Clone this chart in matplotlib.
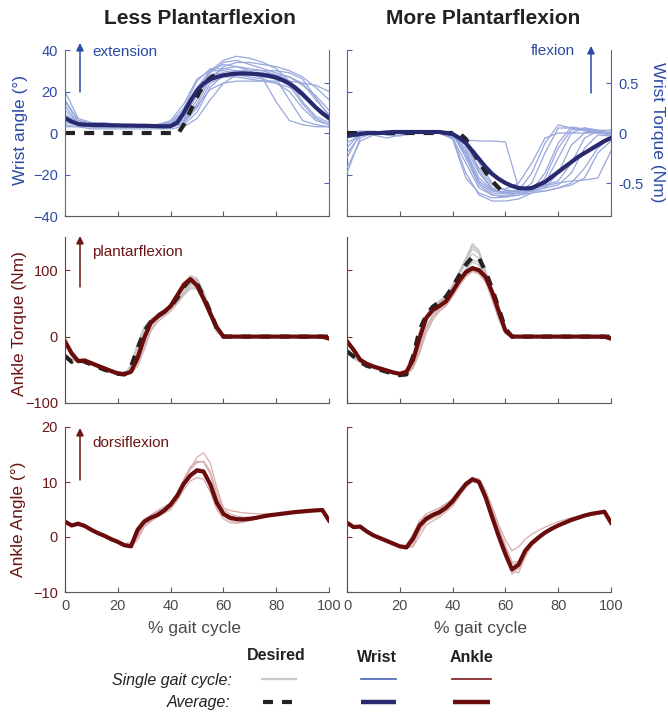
import matplotlib
matplotlib.use("Agg")
import matplotlib.pyplot as plt

plt.rcParams['font.family'] = ['Liberation Sans', 'DejaVu Sans']

# ---------------- data ----------------
X_AVG = [i * 2.5 for i in range(41)]
X_W = list(range(0, 101, 5))
TQ_X = [0, 2.5, 5, 10, 15, 20, 22.5, 25, 27.5, 30, 32.5, 35, 37.5, 40, 42.5, 45,
        47.5, 50, 52.5, 55, 57.5, 60, 62.5, 65, 80, 100]
AN_X = [0, 2.5, 5, 7.5, 10, 15, 20, 22.5, 25, 27.5, 30, 35, 40, 42.5, 45, 47.5,
        50, 52.5, 55, 57.5, 60, 62.5, 65, 67.5, 70, 75, 80, 85, 90, 95, 97.5, 100]

# Wrist angle (Less plantarflexion)
LPF_WRIST_AVG = [7.2, 5.5, 4.3, 4.0, 3.9, 3.8, 3.8, 3.7, 3.7, 3.6, 3.6, 3.5, 3.5, 3.4, 3.3, 3.2,
                 3.3, 5.0, 9.8, 15.5, 20.5, 23.8, 25.8, 27.0, 27.8, 28.3, 28.6, 28.7, 28.6, 28.4,
                 28.0, 27.5, 26.7, 25.5, 23.8, 21.5, 18.6, 15.5, 12.3, 9.5, 7.2]
LPF_WRIST_DES_X = [0, 43, 45, 51, 54.5, 58.5]
LPF_WRIST_DES = [0, 0, 4, 20, 26, 29.5]
LPF_WRIST_SINGLE = [
    [20, 7, 5, 4, 4, 4, 4, 4, 5, 8, 18, 30, 35, 37, 36, 34, 31, 25, 15, 8, 5],
    [16, 6, 4, 4, 4, 4, 3, 3, 3, 5, 14, 26, 32, 34, 34, 33, 32, 30, 27, 22, 16],
    [11, 5, 4, 4, 4, 4, 4, 4, 6, 14, 26, 30, 30, 29, 28, 27, 26, 16, 6, 4, 3],
    [7, 4, 3, 3, 3, 3, 3, 3, 3, 4, 10, 22, 28, 30, 30, 30, 30, 29, 26, 17, 8],
    [5, 4, 3, 3, 3, 3, 3, 3, 3, 5, 12, 24, 27, 27, 26, 25, 24, 22, 18, 12, 6],
    [3, 3, 3, 3, 3, 3, 3, 3, 4, 9, 22, 30, 33, 32, 30, 26, 15, 6, 4, 3, 3],
    [9, 5, 4, 4, 4, 4, 4, 4, 4, 6, 13, 21, 24, 25, 25, 25, 25, 25, 24, 23, 20],
    [4, 3, 2, 2, 2, 2, 2, 2, 2, 3, 7, 16, 24, 28, 29, 29, 28, 27, 24, 16, 9],
    [6, 4, 3, 3, 3, 3, 3, 3, 5, 12, 25, 31, 31, 30, 29, 28, 26, 23, 14, 7, 4],
    [13, 5, 4, 4, 4, 4, 4, 4, 4, 6, 16, 27, 31, 32, 31, 30, 28, 25, 20, 13, 8],
    [8, 5, 4, 4, 4, 3, 3, 3, 4, 7, 19, 28, 29, 28, 27, 26, 24, 20, 12, 6, 4],
    [15, 6, 5, 5, 4, 4, 4, 4, 5, 10, 21, 29, 34, 35, 33, 31, 29, 27, 23, 18, 11],
]

# Wrist torque (More plantarflexion)
MPF_WRIST_AVG = [-0.03, -0.02, -0.01, 0.0, 0.0, 0.0, 0.005, 0.01, 0.01, 0.01, 0.01, 0.01, 0.01,
                 0.01, 0.01, 0.0, -0.01, -0.05, -0.10, -0.18, -0.26, -0.34, -0.41, -0.46, -0.50,
                 -0.53, -0.55, -0.555, -0.55, -0.52, -0.49, -0.44, -0.39, -0.34, -0.29, -0.24,
                 -0.20, -0.16, -0.12, -0.08, -0.05]
MPF_WRIST_DES_X = [0, 42.5, 45, 47.5, 50, 52.5, 55, 57.5, 60.5]
MPF_WRIST_DES = [0, 0, -0.06, -0.18, -0.29, -0.39, -0.48, -0.55, -0.63]
MPF_WRIST_SINGLE = [
    [-0.40, -0.05, 0, 0, 0, 0, 0, 0, -0.05, -0.30, -0.55, -0.62, -0.63, -0.60, -0.50, -0.20, 0.05, 0.05, 0.02, 0.0, 0.0],
    [-0.25, 0, 0.01, 0.01, 0, 0, 0.01, 0, -0.02, -0.15, -0.40, -0.56, -0.60, -0.60, -0.58, -0.50, -0.25, 0.0, 0.05, 0.02, 0.0],
    [0, 0.01, 0, -0.02, -0.03, 0, 0.01, 0, 0, -0.08, -0.30, -0.50, -0.58, -0.58, -0.55, -0.52, -0.48, -0.30, -0.05, 0.02, 0.0],
    [-0.05, 0, 0.01, 0, 0, 0.01, 0, 0.01, -0.04, -0.40, -0.62, -0.68, -0.68, -0.66, -0.60, -0.45, -0.15, 0.03, 0.05, 0.03, 0.02],
    [0, 0, 0, 0, 0, 0.01, 0.01, 0, -0.03, -0.07, -0.08, -0.08, -0.09, -0.55, -0.58, -0.58, -0.55, -0.50, -0.35, -0.15, -0.05],
    [-0.10, -0.02, 0, 0, 0, 0, 0, 0, -0.01, -0.20, -0.48, -0.58, -0.60, -0.58, -0.55, -0.53, -0.50, -0.48, -0.47, -0.45, -0.18],
    [0.01, 0.01, 0, 0, 0.01, 0, 0, 0, 0, -0.12, -0.35, -0.52, -0.57, -0.58, -0.40, -0.10, 0.08, 0.05, 0.03, 0.01, 0.0],
    [-0.35, -0.08, -0.02, -0.05, -0.02, 0, 0.01, 0.01, 0, -0.25, -0.52, -0.62, -0.64, -0.62, -0.58, -0.55, -0.40, -0.12, 0.0, 0.02, 0.03],
    [-0.15, 0, 0, 0, 0, 0, 0.01, 0, -0.06, -0.45, -0.60, -0.65, -0.64, -0.62, -0.60, -0.58, -0.55, -0.52, -0.45, -0.20, -0.08],
    [0, 0.02, 0.01, 0, 0, 0, 0, 0.01, 0, -0.10, -0.38, -0.55, -0.56, -0.50, -0.30, -0.05, 0.0, 0.0, 0.0, 0.0, -0.02],
    [-0.20, -0.03, 0, 0.01, 0, 0, 0, 0, -0.02, -0.22, -0.50, -0.60, -0.61, -0.60, -0.57, -0.40, -0.10, 0.06, 0.04, 0.01, 0.0],
    [0, 0, -0.01, 0, 0, 0, 0.01, 0, -0.01, -0.18, -0.45, -0.57, -0.59, -0.57, -0.55, -0.55, -0.52, -0.40, -0.15, -0.02, -0.03],
]

# Ankle torque
Z15 = [0] * 15
Z14 = [0] * 14
LPF_TQ_AVG = [-7, -25, -37, -36, -40, -44, -48, -52, -55.5, -56.5, -53, -32, -2, 21, 30, 37, 46,
              62, 78, 86.5, 77, 57, 35, 14, 0] + Z15 + [-3]
LPF_TQ_DES = [-29, -38, -34, -38, -42, -46, -50, -53, -56, -57, -45, -18, 8, 22, 31, 37, 45, 58,
              75, 86, 80, 60, 38, 12, 0] + Z15 + [0]
LPF_TQ_DES_SINGLE = [
    [-25, -40, -33, -40, -49, -55, -57, -50, -25, 0, 18, 28, 35, 43, 55, 72, 85, 85, 65, 40, 14, 0, 0, 0, 0, 0],
    [-30, -36, -35, -42, -50, -56, -58, -42, -10, 15, 26, 33, 39, 48, 62, 80, 92, 88, 68, 42, 15, 0, 0, 0, 0, 0],
    [-28, -38, -36, -43, -51, -57, -58, -53, -35, -8, 15, 27, 34, 42, 52, 66, 78, 80, 62, 36, 10, 0, 0, 0, 0, 0],
    [-32, -34, -34, -41, -49, -55, -56, -48, -20, 8, 25, 34, 40, 46, 57, 70, 80, 75, 55, 30, 8, 0, 0, 0, 0, 0],
    [-27, -39, -35, -41, -50, -56, -57, -45, -15, 12, 24, 31, 37, 45, 60, 76, 88, 86, 66, 40, 12, 0, 0, 0, 0, 0],
    [-31, -35, -36, -42, -50, -56, -57, -55, -40, -15, 10, 25, 33, 40, 50, 62, 72, 72, 55, 30, 6, 0, 0, 0, 0, 0],
]
LPF_TQ_SINGLE = [
    [-5, -25, -36, -41, -48, -55, -56, -54, -38, -8, 17, 28, 35, 44, 58, 75, 84, 80, 60, 36, 14, 1, 0, 0, 0, -2],
    [-8, -30, -38, -40, -47, -54, -56, -50, -28, 2, 22, 31, 38, 47, 62, 80, 88, 80, 58, 34, 12, 0, 0, 0, 0, -3],
    [-6, -27, -35, -39, -46, -53, -55, -55, -45, -20, 8, 22, 30, 38, 50, 65, 75, 74, 56, 32, 12, 1, 0, 0, 0, -2],
    [-9, -28, -37, -42, -49, -56, -57, -52, -30, 0, 20, 30, 38, 48, 64, 82, 90, 84, 60, 34, 12, 0, 0, 0, 0, -3],
]
MPF_TQ_AVG = [-7, -20, -35, -41, -45, -48, -51, -54, -56, -53, -35, -2, 28, 40, 46, 53, 68, 84,
              97, 103, 100, 90, 67, 38, 9, 0] + Z14 + [-3]
MPF_TQ_DES = [-22, -30, -38, -44, -47, -50, -53, -56, -58, -57, -30, 10, 32, 45, 52, 60, 75, 92,
              108, 120, 118, 98, 72, 42, 12, 0] + Z14 + [0]
MPF_TQ_DES_SINGLE = [
    [-20, -32, -38, -47, -53, -57, -58, -40, -5, 25, 40, 50, 58, 72, 92, 110, 125, 118, 92, 62, 32, 8, 0, 0, 0, 0],
    [-24, -30, -37, -46, -52, -56, -57, -28, 8, 32, 46, 54, 62, 78, 98, 118, 140, 130, 100, 68, 38, 12, 0, 0, 0, 0],
    [-18, -33, -39, -48, -54, -58, -58, -45, -15, 15, 33, 45, 53, 66, 85, 102, 115, 112, 88, 58, 28, 6, 0, 0, 0, 0],
    [-22, -31, -38, -47, -53, -57, -57, -35, 0, 28, 43, 52, 60, 75, 95, 114, 132, 125, 95, 64, 34, 10, 0, 0, 0, 0],
    [-21, -31, -38, -47, -53, -57, -57, -48, -20, 10, 30, 44, 52, 64, 82, 100, 112, 108, 85, 55, 25, 5, 0, 0, 0, 0],
    [-23, -32, -37, -46, -52, -56, -56, -30, 5, 30, 45, 53, 61, 76, 96, 116, 136, 128, 98, 66, 36, 11, 0, 0, 0, 0],
]
MPF_TQ_SINGLE = [
    [-6, -20, -36, -46, -51, -55, -54, -40, -8, 25, 38, 45, 52, 66, 82, 96, 102, 98, 86, 62, 32, 6, 0, 0, 0, -3],
    [-8, -22, -34, -44, -50, -56, -56, -45, -20, 12, 30, 40, 48, 62, 80, 92, 100, 96, 84, 58, 30, 5, 0, 0, 0, -3],
    [-5, -18, -35, -45, -51, -55, -53, -32, 0, 30, 42, 50, 57, 70, 86, 100, 106, 102, 92, 70, 40, 12, 0, 0, 0, -2],
    [-7, -21, -37, -46, -52, -57, -56, -48, -25, 5, 25, 38, 46, 60, 76, 90, 98, 94, 82, 56, 28, 4, 0, 0, 0, -3],
]

# Ankle angle
LPF_AN_AVG = [2.8, 2.1, 2.4, 2.0, 1.3, 0.7, 0.2, -0.4, -0.9, -1.5, -1.7, 1.3, 2.8, 3.5, 4.0, 4.8,
              5.9, 7.5, 9.7, 11.2, 12.1, 11.9, 9.6, 6.2, 4.2, 3.5, 3.25, 3.2, 3.3, 3.5, 3.75, 3.95,
              4.1, 4.25, 4.4, 4.55, 4.65, 4.75, 4.85, 4.9, 3.0]
LPF_AN_SINGLE = [
    [2.8, 2.0, 2.8, 2.1, 1.4, 0.3, -0.8, -1.3, -1.6, 0.2, 2.5, 4.2, 5.8, 7.5, 10.0, 12.5, 14.5, 15.3, 13.5, 9.0, 5.3, 4.8, 4.6, 4.4, 4.3, 4.2, 4.2, 4.4, 4.6, 4.8, 4.9, 3.1],
    [2.6, 2.2, 2.5, 2.0, 1.3, 0.1, -1.0, -1.5, -1.8, -0.5, 1.8, 3.8, 5.4, 7.0, 9.2, 11.0, 12.0, 11.8, 9.5, 6.0, 3.8, 3.0, 2.7, 2.8, 3.0, 3.5, 4.0, 4.3, 4.6, 4.9, 5.0, 3.0],
    [2.9, 2.3, 2.6, 2.1, 1.5, 0.4, -0.6, -1.2, -1.0, 1.5, 3.2, 4.8, 6.2, 8.0, 10.5, 12.8, 13.8, 13.6, 11.5, 7.2, 4.6, 3.8, 3.5, 3.4, 3.5, 3.7, 4.0, 4.3, 4.6, 4.8, 4.9, 3.0],
    [2.7, 2.1, 2.4, 1.9, 1.2, 0.2, -0.9, -1.4, -1.7, 0.0, 2.2, 3.6, 5.0, 6.6, 8.6, 10.2, 10.8, 10.5, 8.2, 5.0, 3.3, 2.6, 2.5, 2.7, 3.0, 3.6, 4.1, 4.4, 4.6, 4.8, 4.8, 2.9],
    [2.8, 2.0, 2.5, 2.0, 1.3, 0.2, -0.9, -1.4, -1.3, 1.0, 2.9, 4.5, 6.0, 7.8, 10.3, 12.3, 13.5, 13.8, 12.0, 8.0, 5.0, 4.2, 3.8, 3.6, 3.6, 3.8, 4.1, 4.4, 4.7, 4.9, 5.0, 3.1],
    [2.7, 2.2, 2.6, 2.1, 1.4, 0.3, -0.7, -1.2, -1.5, 0.5, 2.8, 4.0, 5.5, 7.2, 9.5, 11.5, 12.5, 12.2, 10.0, 6.5, 4.2, 3.5, 3.2, 3.2, 3.3, 3.6, 4.0, 4.3, 4.6, 4.8, 4.9, 3.0],
]
MPF_AN_AVG = [2.6, 1.8, 1.9, 1.0, 0.3, -0.2, -0.7, -1.2, -1.7, -1.9, -0.3, 2.1, 3.3, 4.0, 4.5, 5.3,
              6.5, 8.1, 9.6, 10.5, 10.0, 7.2, 3.6, 0.1, -3.1, -5.9, -5.0, -2.5, -1.1, -0.1, 0.8,
              1.5, 2.1, 2.6, 3.1, 3.5, 3.9, 4.2, 4.4, 4.6, 2.6]
MPF_AN_SINGLE = [
    [2.6, 1.9, 1.9, 1.0, 0.3, -0.7, -1.7, -1.9, -0.8, 2.0, 3.5, 5.0, 7.0, 8.5, 10.0, 10.8, 10.5, 8.0, 4.5, 1.0, -2.5, -6.8, -5.5, -3.0, -1.5, 0.5, 2.0, 3.0, 3.8, 4.4, 4.6, 2.6],
    [2.5, 1.8, 1.8, 0.9, 0.2, -0.8, -1.8, -2.0, -1.5, 1.0, 2.8, 4.0, 6.0, 7.6, 9.2, 10.2, 10.2, 8.0, 4.8, 1.6, -1.5, -4.5, -4.5, -2.4, -0.9, 0.9, 2.2, 3.1, 3.9, 4.4, 4.6, 2.6],
    [2.6, 1.9, 1.9, 1.1, 0.3, -0.7, -1.5, -1.5, 0.5, 3.0, 4.2, 5.3, 6.9, 8.4, 9.8, 10.6, 10.6, 8.5, 5.5, 2.2, -0.5, -2.5, -1.8, -0.4, 0.5, 1.8, 2.8, 3.5, 4.1, 4.5, 4.7, 2.7],
    [2.6, 1.8, 1.9, 1.0, 0.3, -0.7, -1.7, -2.0, -1.0, 1.6, 3.0, 4.3, 6.3, 7.8, 9.4, 10.4, 10.3, 7.6, 4.0, 0.4, -3.2, -6.2, -6.5, -3.6, -1.6, 0.6, 2.0, 3.0, 3.8, 4.3, 4.6, 2.6],
    [2.5, 1.8, 1.8, 0.9, 0.2, -0.8, -1.8, -2.0, -1.8, 0.2, 2.2, 3.6, 5.6, 7.3, 9.0, 10.0, 10.0, 7.5, 4.2, 0.8, -2.8, -5.8, -5.8, -3.3, -1.3, 0.7, 2.1, 3.0, 3.8, 4.4, 4.6, 2.6],
    [2.6, 1.9, 2.0, 1.0, 0.3, -0.7, -1.6, -1.8, 0.0, 2.6, 3.8, 4.9, 6.8, 8.2, 9.7, 10.5, 10.4, 8.3, 5.0, 1.5, -1.8, -4.8, -5.0, -2.6, -0.8, 1.0, 2.3, 3.2, 3.9, 4.4, 4.6, 2.6],
]

X_TICKS = [0, 20, 40, 60, 80, 100]
WA_TICKS = [-40, -20, 0, 20, 40]
WT_TICKS = [-0.5, 0, 0.5]
TQ_TICKS = [-100, 0, 100]
AN_TICKS = [-10, 0, 10, 20]

# ---------------- styles ----------------
BLUE_TXT = '#2b4aa3'
BLUE_SPINE = '#5066b6'
WRIST_SINGLE = '#98a7dc'
WRIST_AVG = '#28296f'
DES_SINGLE = '#c3c3c3'
DES_AVG = '#222222'
ANK_SINGLE = '#d6adad'
ANK_AVG = '#6a0c0c'
RED_TXT = '#6b1414'
RED_SPINE = '#7d3535'
GRAY = '#5a5a5a'
TICK_FS = 10.5
LAB_FS = 12.5
DASH = (2.4, 2.2)
SLW = 0.9

W, H = 668, 712
fig = plt.figure(figsize=(W / 100, H / 100), dpi=100)


def pos(l, t, r, b):
    return [l / W, 1 - b / H, (r - l) / W, (b - t) / H]


def base(ax, ycolor, ylim, yticks, show_ylabels, show_xlabels, labcolor):
    ax.set_xlim(0, 100)
    ax.set_ylim(*ylim)
    ax.set_xticks(X_TICKS)
    ax.set_yticks(yticks)
    ax.patch.set_visible(False)
    for s in ('top', 'right'):
        ax.spines[s].set_visible(False)
    ax.spines['left'].set_color(ycolor)
    ax.spines['bottom'].set_color(GRAY)
    for s in ('left', 'bottom'):
        ax.spines[s].set_linewidth(0.8)
    ax.tick_params(axis='x', direction='in', length=3.5, width=0.8, color=GRAY,
                   labelcolor='#4a4a4a', labelsize=TICK_FS, pad=5,
                   labelbottom=show_xlabels)
    ax.tick_params(axis='y', direction='in', length=3.5, width=0.8, color=ycolor,
                   labelcolor=labcolor, labelsize=TICK_FS, pad=5, labelleft=show_ylabels)


def twin(ax, show_labels):
    t = ax.twinx()
    t.set_ylim(-0.83, 0.83)
    t.set_yticks(WT_TICKS)
    t.set_yticklabels(['-0.5', '0', '0.5'])
    for s in ('top', 'left', 'bottom'):
        t.spines[s].set_visible(False)
    t.spines['right'].set_color(BLUE_SPINE)
    t.spines['right'].set_linewidth(0.8)
    t.tick_params(axis='y', direction='in', length=3.5, width=0.8, color=BLUE_SPINE,
                  labelcolor=BLUE_TXT, labelsize=TICK_FS, pad=5, labelright=show_labels)
    return t


# top-left
ax_tl = fig.add_axes(pos(65, 50, 329, 216))
base(ax_tl, BLUE_SPINE, (-40, 40), WA_TICKS, True, False, BLUE_TXT)
tw_tl = twin(ax_tl, False)
for s in LPF_WRIST_SINGLE:
    ax_tl.plot(X_W, s, color=WRIST_SINGLE, lw=SLW)
ax_tl.plot(LPF_WRIST_DES_X, LPF_WRIST_DES, color=DES_AVG, lw=3, dashes=DASH)
ax_tl.plot(X_AVG, LPF_WRIST_AVG, color=WRIST_AVG, lw=3)

# top-right
ax_tr = fig.add_axes(pos(347, 50, 611, 216))
base(ax_tr, BLUE_SPINE, (-40, 40), WA_TICKS, False, False, BLUE_TXT)
tw_tr = twin(ax_tr, True)
for s in MPF_WRIST_SINGLE:
    tw_tr.plot(X_W, s, color=WRIST_SINGLE, lw=SLW)
tw_tr.plot(MPF_WRIST_DES_X, MPF_WRIST_DES, color=DES_AVG, lw=3, dashes=DASH)
tw_tr.plot(X_AVG, MPF_WRIST_AVG, color=WRIST_AVG, lw=3)

# middle
ax_ml = fig.add_axes(pos(65, 237, 329, 403))
base(ax_ml, RED_SPINE, (-100, 150), TQ_TICKS, True, False, RED_TXT)
ax_mr = fig.add_axes(pos(347, 237, 611, 403))
base(ax_mr, RED_SPINE, (-100, 150), TQ_TICKS, False, False, RED_TXT)
for ax, dsing, sing, des, avg in ((ax_ml, LPF_TQ_DES_SINGLE, LPF_TQ_SINGLE, LPF_TQ_DES, LPF_TQ_AVG),
                                  (ax_mr, MPF_TQ_DES_SINGLE, MPF_TQ_SINGLE, MPF_TQ_DES, MPF_TQ_AVG)):
    for s in dsing:
        ax.plot(TQ_X, s, color=DES_SINGLE, lw=SLW)
    for s in sing:
        ax.plot(TQ_X, s, color=ANK_SINGLE, lw=SLW)
    ax.plot(X_AVG, des, color=DES_AVG, lw=3, dashes=DASH)
    ax.plot(X_AVG, avg, color=ANK_AVG, lw=3)

# bottom
ax_bl = fig.add_axes(pos(65, 427, 329, 592))
base(ax_bl, RED_SPINE, (-10, 20), AN_TICKS, True, True, RED_TXT)
ax_br = fig.add_axes(pos(347, 427, 611, 592))
base(ax_br, RED_SPINE, (-10, 20), AN_TICKS, False, True, RED_TXT)
for ax, sing, avg in ((ax_bl, LPF_AN_SINGLE, LPF_AN_AVG), (ax_br, MPF_AN_SINGLE, MPF_AN_AVG)):
    for s in sing:
        ax.plot(AN_X, s, color=ANK_SINGLE, lw=SLW)
    ax.plot(X_AVG, avg, color=ANK_AVG, lw=3)

# ---------------- overlay (text, arrows, legend) ----------------
lax = fig.add_axes([0, 0, 1, 1])
lax.set_xlim(0, W)
lax.set_ylim(H, 0)
lax.axis('off')

lax.text(199.5, 19, 'Less Plantarflexion', fontsize=15, fontweight='bold', color='#222222',
         ha='center', va='center')
lax.text(483, 19, 'More Plantarflexion', fontsize=15, fontweight='bold', color='#222222',
         ha='center', va='center')

lax.text(21, 130, 'Wrist angle (°)', rotation=90, fontsize=LAB_FS, color=BLUE_TXT,
         ha='center', va='center')
lax.text(657, 132, 'Wrist Torque (Nm)', rotation=-90, fontsize=LAB_FS, color=BLUE_TXT,
         ha='center', va='center')
lax.text(20, 324, 'Ankle Torque (Nm)', rotation=90, fontsize=LAB_FS, color=RED_TXT,
         ha='center', va='center')
lax.text(19, 519, 'Ankle Angle (°)', rotation=90, fontsize=LAB_FS, color=RED_TXT,
         ha='center', va='center')
lax.text(195, 629, '% gait cycle', fontsize=LAB_FS, color='#4a4a4a', ha='center', va='center')
lax.text(480, 629, '% gait cycle', fontsize=LAB_FS, color='#4a4a4a', ha='center', va='center')

arrow_kw = dict(arrowstyle='-|>', lw=1.1, mutation_scale=11, shrinkA=0, shrinkB=0)
lax.annotate('', xy=(80, 43), xytext=(80, 92), arrowprops=dict(color=BLUE_TXT, **arrow_kw))
lax.text(92, 52.5, 'extension', fontsize=11, color=BLUE_TXT, ha='left', va='center')
lax.annotate('', xy=(591, 46), xytext=(591, 93), arrowprops=dict(color=BLUE_TXT, **arrow_kw))
lax.text(575, 51, 'flexion', fontsize=11, color=BLUE_TXT, ha='right', va='center')
lax.annotate('', xy=(80, 236), xytext=(80, 287), arrowprops=dict(color=RED_TXT, **arrow_kw))
lax.text(92, 252, 'plantarflexion', fontsize=11, color=RED_TXT, ha='left', va='center')
lax.annotate('', xy=(80, 428), xytext=(80, 480), arrowprops=dict(color=RED_TXT, **arrow_kw))
lax.text(92, 443, 'dorsiflexion', fontsize=11, color=RED_TXT, ha='left', va='center')

# legend
lax.text(276, 655, 'Desired', fontsize=11.5, fontweight='bold', color='#222222', ha='center', va='center')
lax.text(377, 657, 'Wrist', fontsize=11.5, fontweight='bold', color='#222222', ha='center', va='center')
lax.text(471, 657, 'Ankle', fontsize=11.5, fontweight='bold', color='#222222', ha='center', va='center')
lax.text(232, 680, 'Single gait cycle:', fontsize=11.5, style='italic', color='#222222', ha='right', va='center')
lax.text(231, 702, 'Average:', fontsize=11.5, style='italic', color='#222222', ha='right', va='center')
lax.plot([262, 296], [679, 679], color='#c8c8c8', lw=1.6)
lax.plot([361, 396], [679, 679], color='#4a62b4', lw=1.2)
lax.plot([452, 491], [679, 679], color='#7a1a1a', lw=1.2)
lax.plot([263, 273], [702, 702], color=DES_AVG, lw=3, solid_capstyle='butt')
lax.plot([282, 292], [702, 702], color=DES_AVG, lw=3, solid_capstyle='butt')
lax.plot([361, 396], [702, 702], color=WRIST_AVG, lw=3.2, solid_capstyle='butt')
lax.plot([453, 490], [702, 702], color=ANK_AVG, lw=3.2, solid_capstyle='butt')

fig.savefig('out.png', dpi=100)
